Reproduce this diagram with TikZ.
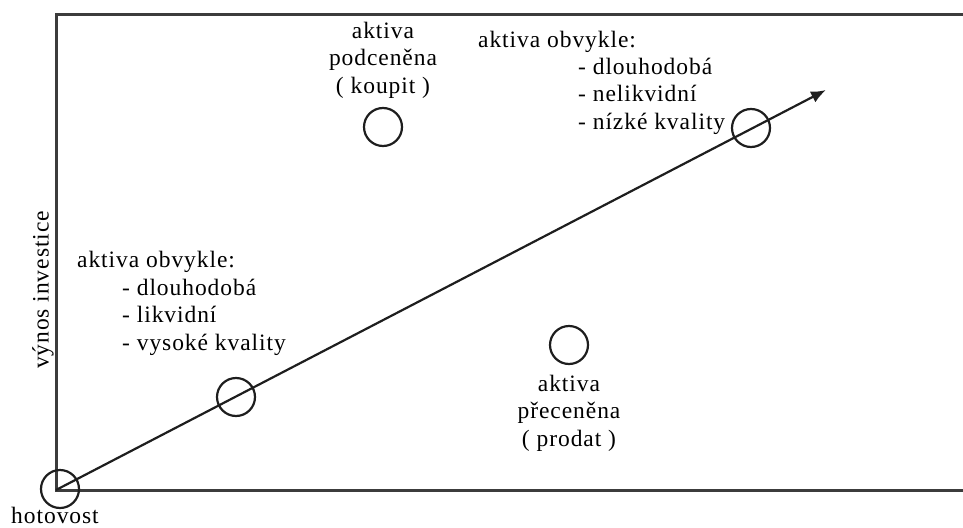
\documentclass[tikz,border=0pt]{standalone}
\usepackage{fontspec}
\setmainfont{Liberation Serif}[LetterSpace=4]
\usetikzlibrary{arrows.meta}
\definecolor{ramec}{HTML}{3C3C3C}
\definecolor{cara}{HTML}{1E1E1E}
\begin{document}
\begin{tikzpicture}[x=1pt, y=-1pt]
        \tikzstyle{osa}=[line width=3pt, draw=ramec];
        \tikzstyle{bod}=[draw=cara, circle, line width=2.2pt, minimum size=38pt, inner sep=0pt];
        \tikzstyle{popis}=[font=\fontsize{23.5}{27.5}\selectfont, text=black, inner sep=0pt];
        \useasboundingbox (0,0) rectangle (963,527);

        % osy
        \draw[osa] (963,15) -- (56,15) -- (56,490) -- (963,490);
        \coordinate (roh) at (56,490);
        \coordinate (vrchol) at (826,90);

        % body
        \node[bod] (hotov) at (60,489) {};
        \node[bod] (likvid) at (236,397) {};
        \node[bod] (nelikvid) at (751,128) {};
        \node[bod] (podcen) at (383,127) {};
        \node[bod] (precen) at (569,345) {};

        \draw[-{Latex[length=15pt,width=12pt]}, line width=2.2pt, cara] (roh) -- (vrchol);

        % popisy (base = posledni radek)
        \node[popis, rotate=90] (vynos) at (43,290) {výnos investice};
        \node[popis, anchor=base] (hotovtxt) at (55,523.5) {hotovost};
        \node[popis, align=center, anchor=base] (podcentxt) at (383,93) {aktiva\\podceněna\\( koupit )};
        \node[popis, align=center, anchor=base] (precentxt) at (569,446) {aktiva\\přeceněna\\( prodat )};
        \node[popis, anchor=base west] (nahore) at (478,48) {aktiva obvykle:};
        \node[popis, align=left, anchor=base west] (nahoreseznam) at (578,129) {- dlouhodobá\\- nelikvidní\\- nízké kvality};
        \node[popis, anchor=base west] (vlevo) at (77,267) {aktiva obvykle:};
        \node[popis, align=left, anchor=base west] (vlevoseznam) at (122,350) {- dlouhodobá\\- likvidní\\- vysoké kvality};
    \end{tikzpicture}
\end{document}
